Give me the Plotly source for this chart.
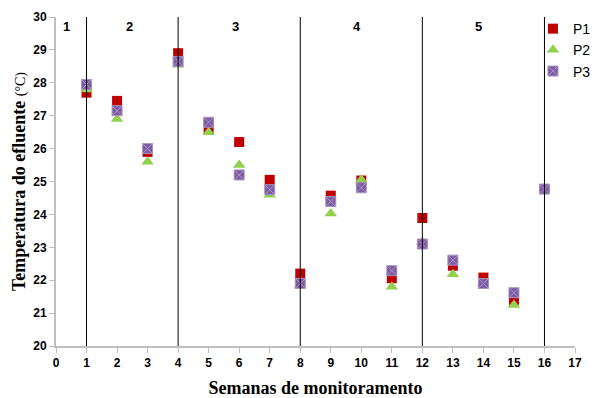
import plotly.graph_objects as go

semanas = list(range(1, 17))
p1 = [27.7, 27.45, 25.9, 28.9, 26.6, 26.2, 25.05, 22.2, 24.57, 25.03, 22.06, 23.89, 22.44, 22.08, 21.4, 24.77]
p2 = [27.8, 26.9, 25.6, 28.55, 26.5, 25.5, 24.6, 21.85, 24.03, 25.05, 21.8, 23.15, 22.18, 21.9, 21.25, 24.8]
p3 = [27.95, 27.15, 26.0, 28.65, 26.8, 25.2, 24.75, 21.9, 24.39, 24.81, 22.29, 23.1, 22.61, 21.9, 21.62, 24.77]

fases = ["1", "2", "3", "4", "5"]
fase_pos = [0.33, 2.4, 5.87, 9.87, 13.84]
divisorias = [1, 4, 8, 12, 16]

fig = go.Figure()
fig.add_trace(go.Scatter(x=semanas, y=p1, mode="markers", name="P1",
                         marker=dict(symbol="square", size=10, color="#C00000",
                                     line=dict(width=0))))
fig.add_trace(go.Scatter(x=semanas, y=p2, mode="markers", name="P2",
                         marker=dict(symbol="triangle-up", size=11, color="#92D050",
                                     line=dict(width=0))))
fig.add_trace(go.Scatter(x=semanas, y=p3, mode="markers", name="P3",
                         marker=dict(symbol="square-x", size=10, color="#7E5CA6",
                                     line=dict(width=1, color="#A894C0"))))

for xv in divisorias:
    fig.add_shape(type="line", xref="x", yref="y", x0=xv, x1=xv, y0=20, y1=30,
                  line=dict(color="#000000", width=1))

for lbl, xp in zip(fases, fase_pos):
    fig.add_annotation(x=xp, y=29.7, xref="x", yref="y", text="<b>%s</b>" % lbl,
                       showarrow=False, font=dict(family="Liberation Sans", size=13, color="#000"))

tick_font = dict(family="Liberation Sans", size=12, color="#000")
fig.update_xaxes(range=[0, 17], tickmode="array", tickvals=list(range(0, 18)),
                 ticktext=["<b>%d</b>" % v for v in range(0, 18)],
                 showgrid=False, zeroline=False, showline=True, linecolor="#BFBFBF",
                 linewidth=2, ticks="outside", ticklen=5, tickcolor="#BFBFBF",
                 tickfont=tick_font, automargin=False,
                 title=dict(text="<b>Semanas de monitoramento</b>",
                            font=dict(family="Liberation Serif", size=18, color="#000"),
                            standoff=12))
fig.update_yaxes(range=[20, 30], tickmode="array", tickvals=list(range(20, 31)),
                 ticktext=["<b>%d</b>" % v for v in range(20, 31)],
                 showgrid=False, zeroline=False, showline=True, linecolor="#BFBFBF",
                 linewidth=2, ticks="outside", ticklen=5, tickcolor="#BFBFBF",
                 tickfont=tick_font, automargin=False,
                 title=dict(text="<b>Temperatura do efluente</b> <span style='font-size:14px'>(°C)</span>",
                            font=dict(family="Liberation Serif", size=18, color="#000"),
                            standoff=3))

fig.update_layout(width=609, height=398, plot_bgcolor="white", paper_bgcolor="white",
                  margin=dict(l=56, r=34, t=17, b=52, autoexpand=False),
                  legend=dict(x=0.919, y=1.012, xanchor="left", yanchor="top",
                              bgcolor="rgba(0,0,0,0)", itemwidth=30, tracegroupgap=0,
                              font=dict(family="Liberation Sans", size=14, color="#000")),
                  showlegend=True)

fig.write_html("out.html")
